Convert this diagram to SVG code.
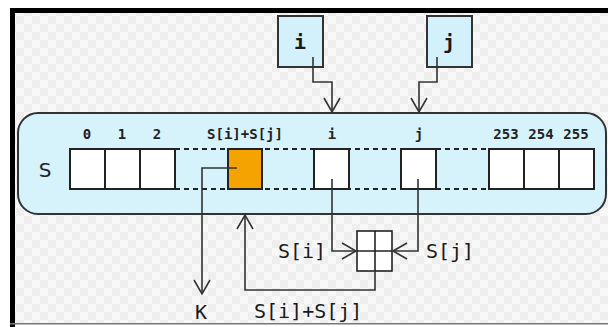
<svg xmlns="http://www.w3.org/2000/svg" width="608" height="327" viewBox="0 0 608 327">
<defs>
<pattern id="chk" width="16" height="16" patternUnits="userSpaceOnUse">
<rect width="16" height="16" fill="#f8f8f8"/>
<rect width="8" height="8" fill="#eeeeee"/>
<rect x="8" y="8" width="8" height="8" fill="#eeeeee"/>
</pattern>
<marker id="v" viewBox="-15 -9 17 18" refX="0" refY="0" markerWidth="17" markerHeight="18" markerUnits="userSpaceOnUse" orient="auto" overflow="visible">
<path d="M-14,-8 L0,0 L-14,8" fill="none" stroke="#333" stroke-width="1.6"/>
</marker>
</defs>
<style>
.cell{fill:#fff;stroke:#222;stroke-width:2}
.dash{stroke:#222;stroke-width:2;stroke-dasharray:5 4}
.idx{font-family:"DejaVu Sans Mono",monospace;font-size:14px;font-weight:bold;fill:#222;text-anchor:middle}
.lbl{font-family:"DejaVu Sans Mono",monospace;font-size:20px;fill:#1a1a1a}
.con{fill:none;stroke:#333;stroke-width:1.6}
.var{fill:#d3f1fb;stroke:#333;stroke-width:2}
</style>
<rect width="608" height="327" fill="#fff"/>
<rect x="10" y="8" width="598" height="316" fill="url(#chk)"/>
<rect x="10" y="8" width="5" height="319" fill="#000"/>
<rect x="10" y="8" width="598" height="5" fill="#000"/>
<rect x="10" y="323" width="598" height="1.5" fill="#777"/>

<g id="array">
<rect x="18" y="113" width="588" height="101" rx="20" fill="#d6f3fc" stroke="#333" stroke-width="2"/>
<text x="45" y="177" font-family="DejaVu Sans,sans-serif" font-size="20" fill="#222" text-anchor="middle">S</text>
<line class="dash" x1="175" y1="149" x2="489" y2="149"/>
<line class="dash" x1="175" y1="189" x2="489" y2="189"/>
<rect class="cell" x="70" y="149" width="35" height="40"/>
<rect class="cell" x="105" y="149" width="35" height="40"/>
<rect class="cell" x="140" y="149" width="35" height="40"/>
<rect x="228" y="149" width="34" height="40" fill="#f5a300" stroke="#222" stroke-width="2"/>
<rect class="cell" x="314" y="149" width="35" height="40"/>
<rect class="cell" x="401" y="149" width="35" height="40"/>
<rect class="cell" x="489" y="149" width="35" height="40"/>
<rect class="cell" x="524" y="149" width="35" height="40"/>
<rect class="cell" x="559" y="149" width="35" height="40"/>
<text class="idx" x="87" y="139">0</text>
<text class="idx" x="122" y="139">1</text>
<text class="idx" x="157" y="139">2</text>
<text class="idx" x="245" y="139">S[i]+S[j]</text>
<text class="idx" x="332" y="139">i</text>
<text class="idx" x="419" y="139">j</text>
<text class="idx" x="506" y="139">253</text>
<text class="idx" x="541" y="139">254</text>
<text class="idx" x="576" y="139">255</text>
</g>

<g id="node-i">
<rect class="var" x="278" y="16" width="45" height="51"/>
<text x="300" y="49" class="lbl" font-weight="bold" text-anchor="middle">i</text>
</g>
<g id="node-j">
<rect class="var" x="427" y="16" width="45" height="51"/>
<text x="449" y="49" class="lbl" font-weight="bold" text-anchor="middle">j</text>
</g>

<g id="adder">
<rect x="357" y="231" width="35" height="40" fill="#fff" stroke="#222" stroke-width="1.6"/>
<line x1="375" y1="231" x2="375" y2="271" stroke="#222" stroke-width="1.6"/>
<line x1="357" y1="251" x2="392" y2="251" stroke="#222" stroke-width="1.6"/>
</g>

<g id="connectors">
<polyline class="con" points="313,57 313,82 332,82 332,112" marker-end="url(#v)"/>
<polyline class="con" points="437,57 437,82 419,82 419,112" marker-end="url(#v)"/>
<polyline class="con" points="332,179 332,251 356,251" marker-end="url(#v)"/>
<polyline class="con" points="418,179 418,251 393,251" marker-end="url(#v)"/>
<polyline class="con" points="375,271 375,290 245,290 245,215" marker-end="url(#v)"/>
<polyline class="con" points="237,168 202,168 202,294" marker-end="url(#v)"/>
</g>

<g id="labels">
<text class="lbl" x="278" y="258">S[i]</text>
<text class="lbl" x="426" y="258">S[j]</text>
<text class="lbl" x="254" y="318">S[i]+S[j]</text>
<text class="lbl" x="201" y="319" text-anchor="middle">K</text>
</g>
</svg>
